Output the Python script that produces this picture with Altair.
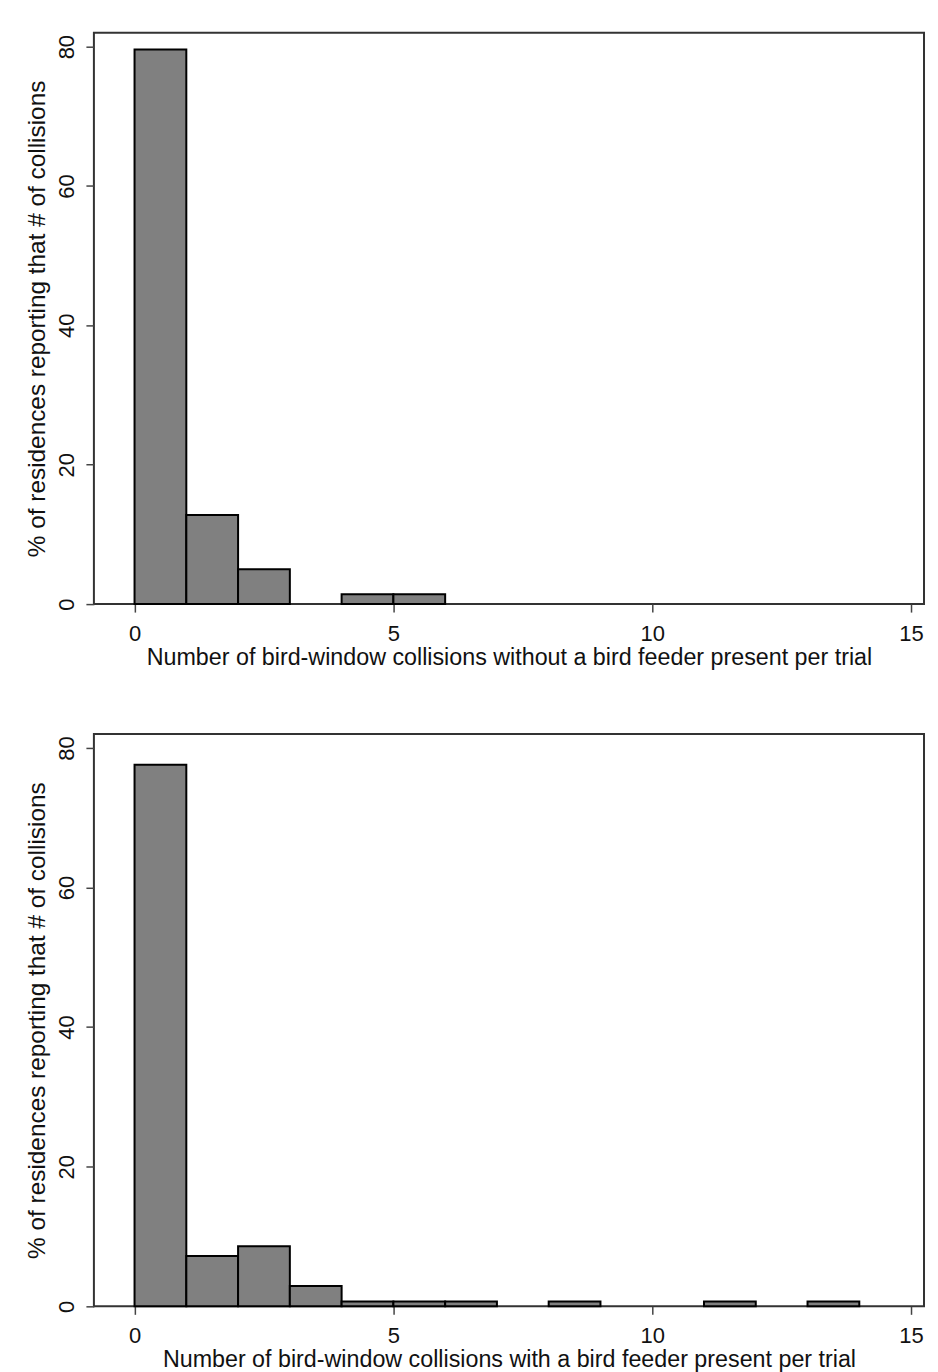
import altair as alt
import pandas as pd

# Top panel: without feeder
top_start = [0, 1, 2, 4, 5]
top_end = [1, 2, 3, 5, 6]
top_pct = [79.6, 12.8, 5.0, 1.4, 1.4]

# Bottom panel: with feeder
bot_start = [0, 1, 2, 3, 4, 5, 6, 8, 11, 13]
bot_end = [1, 2, 3, 4, 5, 6, 7, 9, 12, 14]
bot_pct = [77.6, 7.2, 8.6, 2.9, 0.71, 0.71, 0.71, 0.71, 0.71, 0.71]

x_ticks = [0, 5, 10, 15]
y_ticks = [0, 20, 40, 60, 80]

y_title = "% of residences reporting that # of collisions"
x_title_top = "Number of bird-window collisions without a bird feeder present per trial"
x_title_bot = "Number of bird-window collisions with a bird feeder present per trial"

FONT = "Liberation Sans"


def panel(starts, ends, pcts, xtitle, h):
    df = pd.DataFrame({"start": starts, "end": ends, "pct": pcts})
    return alt.Chart(df).mark_rect(
        fill="#808080", stroke="#000000", strokeWidth=2
    ).encode(
        x=alt.X("start:Q", scale=alt.Scale(domain=[-0.785, 15.25], nice=False, zero=False),
                axis=alt.Axis(values=x_ticks, title=xtitle, format="d")),
        x2="end:Q",
        y=alt.Y("pct:Q", scale=alt.Scale(domain=[0, 82.0], nice=False),
                axis=alt.Axis(values=y_ticks, title=y_title, labelAngle=270,
                              labelAlign="center", labelBaseline="bottom")),
        y2=alt.datum(0),
    ).properties(width=831, height=h)


top = panel(top_start, top_end, top_pct, x_title_top, 572)
bot = panel(bot_start, bot_end, bot_pct, x_title_bot, 573)

chart = alt.vconcat(top, bot, spacing=63).properties(
    padding={"left": 16, "top": 23, "right": 5, "bottom": 0}
).configure_view(
    stroke="#333333", strokeWidth=2
).configure_axis(
    domain=False,
    grid=False,
    ticks=True,
    tickSize=8,
    tickColor="#444444",
    tickWidth=1.5,
    labelFont=FONT,
    labelFontSize=22,
    labelColor="#111111",
    labelPadding=11,
    titleFont=FONT,
    titleFontSize=23.3,
    titleFontWeight="normal",
    titleColor="#111111",
    titlePadding=2,
).configure_axisY(
    labelPadding=7,
    titlePadding=6,
    titleFontSize=24.4,
)

chart.save("out.html", embed_options={"renderer": "svg", "actions": False})
